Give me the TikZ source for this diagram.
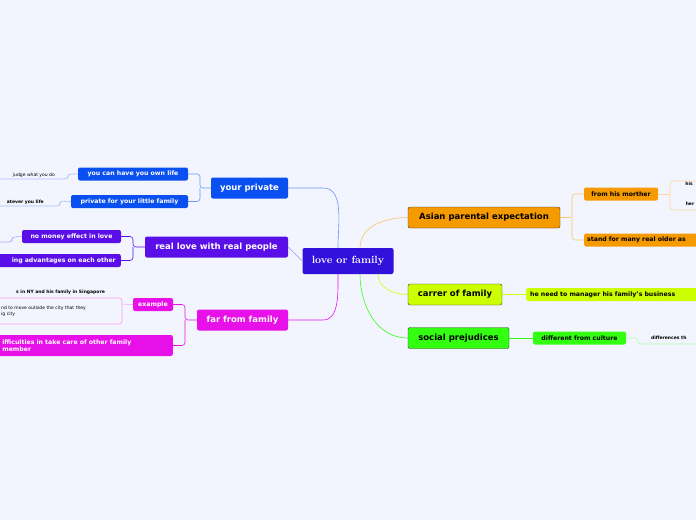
\documentclass[tikz,border=0pt]{standalone}
\usepackage{fontspec}
\setsansfont{DejaVu Sans}
\usetikzlibrary{positioning}
\definecolor{bg}{HTML}{F3F5FE}
\definecolor{cblue}{HTML}{0A4FF0}
\definecolor{cpurple}{HTML}{5A0FE8}
\definecolor{cmag}{HTML}{E810E8}
\definecolor{croot}{HTML}{3311DD}
\definecolor{corange}{HTML}{F59A00}
\definecolor{cyel}{HTML}{CCFF00}
\definecolor{cgreen}{HTML}{33FF11}
\begin{document}
\begin{tikzpicture}[
    x=1pt, y=-1pt,
    main/.style={rounded corners=2pt, inner sep=0pt, minimum height=21pt,
      font=\sffamily\bfseries\fontsize{8.5}{10}\selectfont, text=white},
    sub/.style={rounded corners=2pt, inner sep=0pt, minimum height=13pt,
      font=\sffamily\bfseries\fontsize{6.2}{7}\selectfont, text=white},
    leaf/.style={inner sep=1pt, font=\sffamily\fontsize{4.5}{6}\selectfont},
    ln/.style={line width=0.6pt, rounded corners=3pt},]
  \clip (0,0) rectangle (696,520);
  \fill[bg] (0,0) rectangle (696,520);
  % centre
  \node[main, fill=croot, minimum width=91pt, minimum height=26pt,
    font=\rmfamily\bfseries\fontsize{10.5}{12}\selectfont] (Root) at (348,261) {love or family};
  %% left side
  \node[main, fill=cblue, minimum width=77pt] (Priv) at (249.5,188) {your private};
  \node[sub, fill=cblue, minimum width=110pt] (Own) at (133,174) {you can have you own life};
  \node[sub, fill=cblue, minimum width=117pt] (Little) at (129.5,201.5) {private for your little family};
  \node[leaf, anchor=east] (Judge) at (56,175) {judge what you do};
  \node[leaf, anchor=east, font=\sffamily\bfseries\fontsize{4.5}{6}\selectfont] (Whatever) at (45,202) {atever you life};
  \node[main, fill=cpurple, minimum width=143pt] (Real) at (216.5,247) {real love with real people};
  \node[sub, fill=cpurple, minimum width=99pt] (Money) at (71.5,236.5) {no money effect in love};
  \node[sub, fill=cpurple, anchor=east, minimum width=135pt, text width=125pt, align=right] (Adv) at (121,260.5) {ing advantages on each other};
  \coordinate (MoneyLeaf) at (0,242);
  \node[main, fill=cmag, minimum width=91pt] (Far) at (242.5,320) {far from family};
  \node[sub, fill=cmag, minimum width=40pt] (Ex) at (153,304.5) {example};
  \node[leaf, anchor=east, font=\sffamily\bfseries\fontsize{4.5}{6}\selectfont] (NY) at (106,292) {s in NY and his family in Singapore};
  \node[leaf, anchor=north west, text width=110pt, align=left] (Move) at (0,305)
    {nd to move outside the city that they\\ig city};
  \draw[cmag!40, line width=0.7pt, rounded corners=3pt] (-5,298) rectangle (122,324);
  \node[sub, fill=cmag, anchor=east, minimum width=176pt, minimum height=21pt,
    text width=165pt, align=left] (Diff) at (173,345.5)
    {ifficulties in take care of other family\\member};
  %% right side
  \node[main, fill=corange, text=black, draw=black!80, minimum width=152pt] (Asian) at (484,217.5) {Asian parental expectation};
  \node[sub, fill=corange, text=black, minimum width=74pt] (Mother) at (621,194) {from his morther};
  \node[leaf, font=\sffamily\bfseries\fontsize{4.5}{6}\selectfont] (His) at (689,184) {his};
  \node[leaf, font=\sffamily\bfseries\fontsize{4.5}{6}\selectfont] (Her) at (690,204) {her};
  \draw[corange!40, line width=0.7pt, rounded corners=3pt] (670,181) rectangle (710,210);
  \node[sub, fill=corange, text=black, anchor=west, minimum width=130pt, text width=124pt] (Stand) at (584,240) {stand for many real older as};
  \node[main, fill=cyel, text=black, draw=black!80, minimum width=94pt] (Carrer) at (455,294.5) {carrer of family};
  \node[sub, fill=cyel, text=black, anchor=west, minimum width=180pt, text width=172pt] (Manage) at (526,294.5) {he need to manager his family's business};
  \node[main, fill=cgreen, text=black, draw=black!80, minimum width=101pt] (Social) at (458.5,338) {social prejudices};
  \node[sub, fill=cgreen, text=black, minimum width=93pt] (Culture) at (579.5,338) {different from culture};
  \node[leaf, anchor=west, font=\sffamily\bfseries\fontsize{4.5}{6}\selectfont] (Differ) at (650,338) {differences th};
  %% connectors from centre
  \draw[ln, cblue!60] (Priv.east) -- (320,188) to[out=0,in=90] (Root.north west-|338,0);
  \draw[ln, cpurple!50] (Real.east) -- (Root.west);
  \draw[ln, cmag] (Far.east) -- (320,320) to[out=0,in=-90] (338,274);
  \draw[ln, corange!60] (360,248) to[out=90,in=180] (Asian.west);
  \draw[ln, cyel] (378,274) to[out=-90,in=180] (Carrer.west);
  \draw[ln, cgreen] (360,274) to[out=-90,in=180] (Social.west);
  %% sub connectors
  \draw[ln, cblue!60] (Priv.west) -- (200,188) |- (Own.east);
  \draw[ln, cblue!60] (200,188) |- (Little.east);
  \draw[ln, cblue!35] (Own.west) -- (68,174) |- (0,179);
  \draw[ln, cblue!35] (Little.west) -- (60,201) |- (0,206);
  \draw[ln, cpurple] (Real.west) -- (133,247) |- (Money.east);
  \draw[ln, cpurple] (133,247) |- (Adv.east);
  \draw[ln, cpurple!40] (Money.west) -- (12,237) |- (MoneyLeaf);
  \draw[ln, cmag] (Far.west) -- (185,320) |- (Ex.east);
  \draw[ln, cmag] (185,320) |- (Diff.east);
  \draw[ln, cmag!40] (Ex.west) -- (122,304);
  \draw[ln, corange!60] (Asian.east) -- (572,217.5) |- (Mother.west);
  \draw[ln, corange!60] (572,217.5) |- (Stand.west);
  \draw[ln, corange!40] (Mother.east) -- (670,194);
  \draw[ln, cyel] (Carrer.east) -- (Manage.west);
  \draw[ln, cgreen] (Social.east) -- (Culture.west);
  \draw[ln, cgreen!40] (Culture.east) -- (638,338) |- (700,344);
\end{tikzpicture}
\end{document}
